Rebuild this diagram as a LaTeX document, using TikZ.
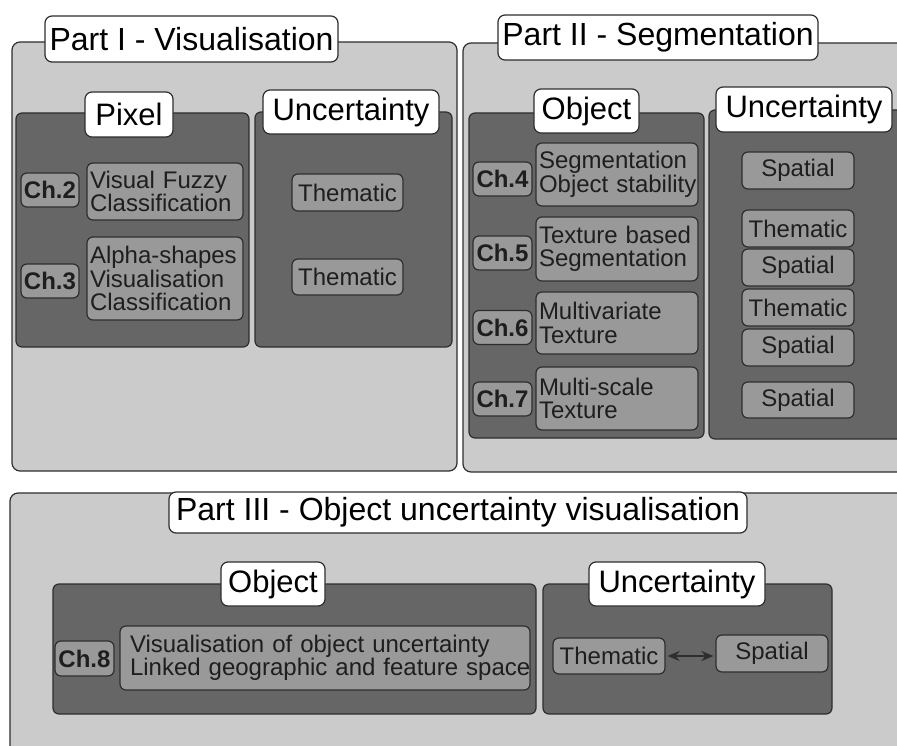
\documentclass[tikz,border=0pt]{standalone}
\usepackage{fontspec}
\setmainfont{Liberation Sans}
\usetikzlibrary{arrows.meta}
\definecolor{outerc}{HTML}{CBCBCB}
\definecolor{innerc}{HTML}{666666}
\definecolor{chc}{HTML}{999999}
\definecolor{bordc}{HTML}{2E2E2E}
\definecolor{txtc}{HTML}{1E1E1E}
\newcommand\bodyfnt{\fontsize{24}{23.5}\selectfont}
\newcommand\titlefnt{\fontsize{31}{31}\selectfont}
\newcommand\partfnt{\fontsize{32}{32}\selectfont}
\tikzset{
  outerbox/.style={draw=bordc, fill=outerc, line width=1.2pt, rounded corners=8pt, inner sep=0pt},
  innerbox/.style={draw=bordc, fill=innerc, line width=1.2pt, rounded corners=6pt, inner sep=0pt},
  chbox/.style={draw=bordc, fill=chc, line width=1.2pt, rounded corners=6pt, text=txtc, font=\bodyfnt, inner sep=0pt, align=center},
  chlabel/.style={chbox, font=\bodyfnt\bfseries, minimum width=59pt, minimum height=34pt},
  descbox/.style={chbox, align=left, inner xsep=3pt, inner ysep=0pt},
  smallbox/.style={chbox, minimum width=112pt, minimum height=37pt},
  titlebox/.style={draw=bordc, fill=white, line width=1.2pt, rounded corners=7pt, text=black, font=\titlefnt, inner sep=0pt},
  parttitle/.style={titlebox, font=\partfnt},
  link/.style={{Stealth[length=12pt,width=10pt]}-{Stealth[length=12pt,width=10pt]}, line width=2.6pt, draw=bordc, shorten <=2pt, shorten >=2pt}
}
\begin{document}
\begin{tikzpicture}[x=1pt,y=-1pt]
\useasboundingbox (0,0) rectangle (897,746);
\begin{scope}
\clip (0,0) rectangle (897,746);
% outer parts
\node[outerbox, minimum width=445pt, minimum height=429pt] (p1) at (234.5,256.5) {};
\node[outerbox, minimum width=447pt, minimum height=429pt] (p2) at (686.5,257.5) {};
\node[outerbox, minimum width=900pt, minimum height=267pt] (p3) at (460,626.5) {};
% inner boxes
\node[innerbox, minimum width=233pt, minimum height=234pt] (pix) at (132.5,230) {};
\node[innerbox, minimum width=197pt, minimum height=235pt] (unc1) at (353.5,229.5) {};
\node[innerbox, minimum width=235pt, minimum height=325pt] (obj2) at (586.5,275.5) {};
\node[innerbox, minimum width=201pt, minimum height=329pt] (unc2) at (809.5,274.5) {};
\node[innerbox, minimum width=483pt, minimum height=130pt] (obj3) at (294.5,649) {};
\node[innerbox, minimum width=289pt, minimum height=130pt] (unc3) at (687.5,649) {};
% titles
\node[parttitle, minimum width=293pt, minimum height=46pt] (t1) at (191.5,39) {Part I - Visualisation};
\node[parttitle, minimum width=320pt, minimum height=45pt] (t2) at (658,37.5) {Part II - Segmentation};
\node[parttitle, minimum width=578pt, minimum height=41pt] (t3) at (458,512.5) {Part III - Object uncertainty visualisation};
\node[titlebox, minimum width=88pt, minimum height=45pt] (tpix) at (129,114.5) {Pixel};
\node[titlebox, minimum width=176pt, minimum height=44pt] (tunc1) at (351,112) {Uncertainty};
\node[titlebox, minimum width=105pt, minimum height=44pt] (tobj2) at (586.5,111) {Object};
\node[titlebox, minimum width=176pt, minimum height=45pt] (tunc2) at (804,109.5) {Uncertainty};
\node[titlebox, minimum width=104pt, minimum height=44pt] (tobj3) at (273,584) {Object};
\node[titlebox, minimum width=176pt, minimum height=44pt] (tunc3) at (677,584) {Uncertainty};
% Part I contents
\node[chlabel, minimum width=58pt] (ch2) at (50,190) {Ch.2};
\node[descbox, text width=150pt, minimum height=57pt] (d2) at (165,191.5) {\mbox{Visual Fuzzy}\\\mbox{Classification}};
\node[chlabel, minimum width=58pt] (ch3) at (50,281) {Ch.3};
\node[descbox, text width=150pt, minimum height=83pt] (d3) at (165,278.5) {\mbox{Alpha-shapes}\\\mbox{Visualisation}\\\mbox{Classification}};
\node[smallbox, minimum width=111pt] (u1a) at (347.5,192.5) {Thematic};
\node[smallbox, minimum width=111pt, minimum height=36pt] (u1b) at (347.5,277) {Thematic};
% Part II contents
\node[chlabel] (ch4) at (502.5,179) {Ch.4};
\node[descbox, text width=156pt, minimum height=63pt] (d4) at (617,174.5) {\mbox{Segmentation}\\\mbox{Object stability}};
\node[chlabel] (ch5) at (502.5,253) {Ch.5};
\node[descbox, text width=156pt, minimum height=64pt] (d5) at (617,249) {\mbox{Texture based}\\\mbox{Segmentation}};
\node[chlabel] (ch6) at (502.5,327.5) {Ch.6};
\node[descbox, text width=156pt, minimum height=62pt] (d6) at (617,323) {\mbox{Multivariate}\\\mbox{Texture}};
\node[chlabel] (ch7) at (502.5,399) {Ch.7};
\node[descbox, text width=156pt, minimum height=63pt] (d7) at (617,398.5) {\mbox{Multi-scale}\\\mbox{Texture}};
\node[smallbox] (u2a) at (798,170.5) {Spatial};
\node[smallbox] (u2b) at (798,228.5) {Thematic};
\node[smallbox] (u2c) at (798,267.5) {Spatial};
\node[smallbox] (u2d) at (798,307.5) {Thematic};
\node[smallbox] (u2e) at (798,347.5) {Spatial};
\node[smallbox, minimum height=36pt] (u2f) at (798,400) {Spatial};
% Part III contents
\node[chlabel, minimum height=35pt] (ch8) at (84.5,658.5) {Ch.8};
\node[descbox, inner xsep=10pt, text width=390pt, minimum height=64pt] (d8) at (325,658) {\mbox{Visualisation of object uncertainty}\\\mbox{Linked geographic and feature space}};
\node[smallbox, minimum height=36pt] (u3a) at (609,656) {Thematic};
\node[smallbox] (u3b) at (772,653.5) {Spatial};
\draw[link] (u3a.east) -- (u3a.east -| u3b.west);
\end{scope}
\end{tikzpicture}
\end{document}
